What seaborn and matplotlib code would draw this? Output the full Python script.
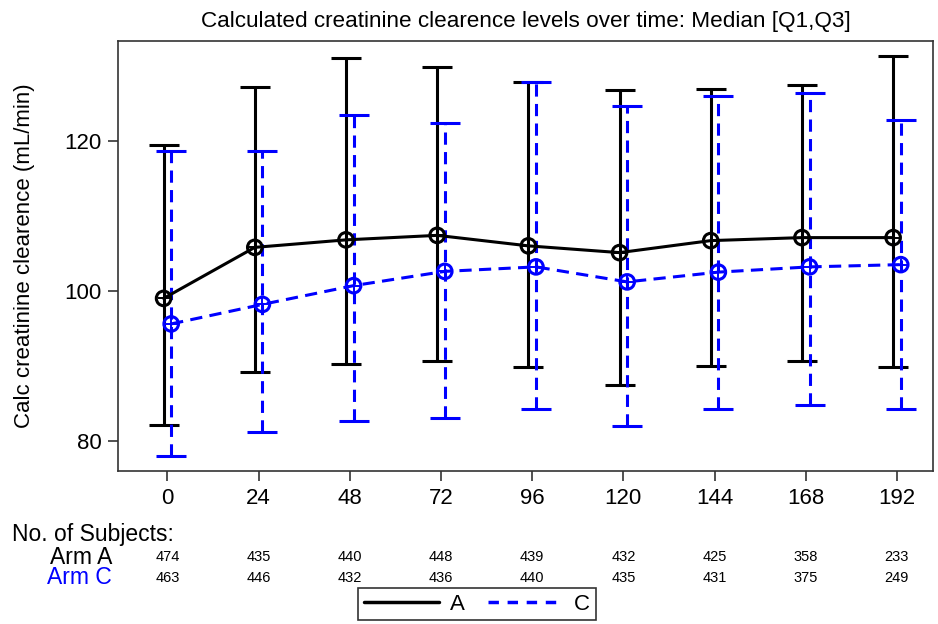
import numpy as np
import pandas as pd
import matplotlib
matplotlib.use("Agg")
import matplotlib.pyplot as plt
import seaborn as sns
from matplotlib.lines import Line2D

hours = [0, 24, 48, 72, 96, 120, 144, 168, 192]

a_median = [99.0, 105.8, 106.8, 107.4, 106.0, 105.1, 106.7, 107.1, 107.1]
a_q1 = [82.1, 89.2, 90.3, 90.6, 89.9, 87.5, 90.0, 90.7, 89.9]
a_q3 = [119.4, 127.2, 131.1, 129.8, 127.9, 126.8, 126.9, 127.4, 131.3]

c_median = [95.6, 98.2, 100.7, 102.6, 103.2, 101.2, 102.5, 103.2, 103.5]
c_q1 = [78.0, 81.2, 82.7, 83.0, 84.3, 82.0, 84.3, 84.8, 84.3]
c_q3 = [118.7, 118.7, 123.5, 122.4, 127.9, 124.7, 126.0, 126.4, 122.8]

n_a = [474, 435, 440, 448, 439, 432, 425, 358, 233]
n_c = [463, 446, 432, 436, 440, 435, 431, 375, 249]

sns.set_style("ticks")
plt.rcParams["font.family"] = ["Liberation Sans", "DejaVu Sans"]
plt.rcParams["text.color"] = "black"
plt.rcParams["axes.labelcolor"] = "black"
plt.rcParams["xtick.color"] = "black"
plt.rcParams["ytick.color"] = "black"

df = pd.concat([
    pd.DataFrame({"hour": np.array(hours) - 1, "median": a_median, "q1": a_q1, "q3": a_q3, "arm": "A"}),
    pd.DataFrame({"hour": np.array(hours) + 1, "median": c_median, "q1": c_q1, "q3": c_q3, "arm": "C"}),
])
colors = {"A": "black", "C": "#0000ff"}
dashes = {"A": "", "C": (4, 2.4)}

fig = plt.figure(figsize=(9.38, 6.24), dpi=100)
ax = fig.add_axes([0.1258, 0.2452, 0.8689, 0.6891])

# Q1-Q3 bars
for arm, sub in df.groupby("arm"):
    ls = "-" if arm == "A" else (0, dashes["C"])
    eb = ax.errorbar(sub["hour"], sub["median"],
                     yerr=[sub["median"] - sub["q1"], sub["q3"] - sub["median"]],
                     fmt="none", ecolor=colors[arm], elinewidth=2.2, capsize=11,
                     capthick=2.2, zorder=2)
    eb[2][0].set_linestyle(ls)

# medians
sns.lineplot(data=df, x="hour", y="median", hue="arm", style="arm",
             palette=colors, dashes=dashes, linewidth=2.2, legend=False,
             ax=ax, zorder=3)
for arm, sub in df.groupby("arm"):
    ax.scatter(sub["hour"], sub["median"], s=110, facecolors="none",
               edgecolors=colors[arm], linewidths=2.2, zorder=4)
    ax.scatter(sub["hour"], sub["median"], s=80, marker="+",
               color=colors[arm], linewidths=1.4, zorder=4)

ax.set_xlim(-13, 201.5)
ax.set_ylim(76, 133.3)
ax.set_xticks(hours)
ax.set_yticks([80, 100, 120])
ax.tick_params(labelsize=16, width=1.2, length=7, color="#333333", pad=5)
ax.set_xlabel("")
ax.set_ylabel("Calc creatinine clearence (mL/min)", fontsize=16, labelpad=21)
for sp in ax.spines.values():
    sp.set_visible(True)
    sp.set_linewidth(1.2)
    sp.set_color("#333333")
ax.set_title("Calculated creatinine clearence levels over time: Median [Q1,Q3]",
             fontsize=16.2, pad=10)

# subjects table
fig.text(12 / 938, 1 - 535 / 624, "No. of Subjects:", fontsize=16.5, va="center")
fig.text(112 / 938, 1 - 557 / 624, "Arm A", fontsize=16.5, va="center", ha="right")
fig.text(112 / 938, 1 - 578 / 624, "Arm C", fontsize=16.5, va="center", ha="right",
         color="#0000ff")
trans = matplotlib.transforms.blended_transform_factory(ax.transData, fig.transFigure)
for h, na, nc in zip(hours, n_a, n_c):
    ax.text(h, 1 - 557 / 624, str(na), fontsize=10.5, ha="center", va="center",
            transform=trans)
    ax.text(h, 1 - 578 / 624, str(nc), fontsize=10.5, ha="center", va="center",
            transform=trans)

handles = [Line2D([], [], color="black", lw=2.5),
           Line2D([], [], color="#0000ff", lw=2.5, dashes=(3, 2.5))]
leg = fig.legend(handles, ["A", "C"], loc="center", ncol=2,
                 bbox_to_anchor=(477 / 938, 1 - 604 / 624), fontsize=16,
                 frameon=True, fancybox=False, handlelength=3.4,
                 columnspacing=1.0, handletextpad=0.5, borderpad=0.25,
                 borderaxespad=0)
leg.get_frame().set_edgecolor("black")
leg.get_frame().set_linewidth(1.2)

fig.savefig("out.png", dpi=100)
